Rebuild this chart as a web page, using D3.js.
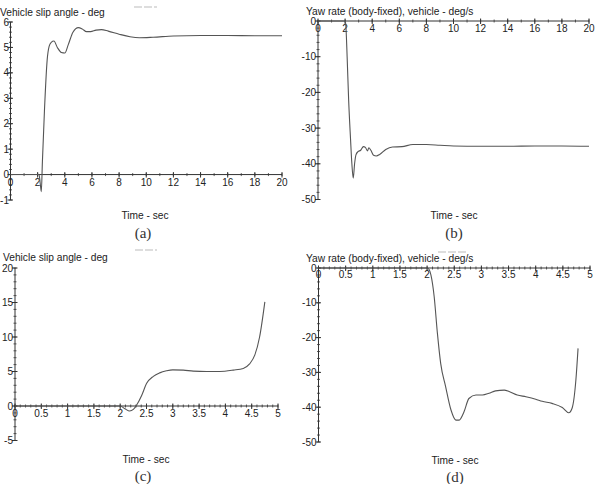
<!DOCTYPE html>
<html><head><meta charset="utf-8">
<script src="https://cdn.jsdelivr.net/npm/d3@7"></script>
<style>
html,body{margin:0;padding:0;background:#fff;}
svg{display:block;}
text{font-family:"Liberation Sans",Arial,sans-serif;fill:#222;}
.cap{font-family:"Liberation Serif","Times New Roman",serif;fill:#333;}
</style>
</head><body>
<svg id="chart" width="596" height="484"></svg>
<script>
// ---- data ----
const timeA = [0, 2.1, 2.2, 2.27, 2.35, 2.5, 2.7, 2.85, 3.0, 3.2, 3.45, 3.75, 4.0, 4.25, 4.6, 5.0, 5.3, 5.6, 5.9, 6.3, 6.7, 7.2, 8.0, 8.8, 9.5, 10.5, 12, 14, 16, 18, 20];
const slipA = [0, 0, -0.4, -0.67, 0.5, 2.5, 4.5, 5.05, 5.2, 5.25, 5.0, 4.8, 4.78, 5.1, 5.6, 5.78, 5.72, 5.62, 5.62, 5.68, 5.7, 5.64, 5.52, 5.42, 5.38, 5.4, 5.45, 5.47, 5.47, 5.46, 5.46];

const timeB = [0, 2.0, 2.05, 2.15, 2.26, 2.4, 2.5, 2.6, 2.7, 2.8, 2.95, 3.15, 3.35, 3.5, 3.65, 3.75, 3.9, 4.1, 4.3, 4.55, 5.0, 5.5, 6.2, 7.0, 8.0, 9.0, 10.0, 12, 14, 16, 18, 20];
const yawB  = [0, 0, -1, -10, -22, -33, -40, -44, -40, -37.5, -36.6, -36.2, -35.2, -35.4, -36.4, -35.5, -36.2, -37.6, -37.8, -37.4, -36, -35.3, -35.2, -34.6, -34.6, -34.8, -35.0, -35.1, -35.1, -35.0, -35.0, -35.1];

const timeC = [0, 2.0, 2.09, 2.18, 2.25, 2.31, 2.41, 2.5, 2.63, 2.75, 2.88, 3.0, 3.2, 3.39, 3.64, 3.89, 4.15, 4.34, 4.46, 4.56, 4.65, 4.75];
const slipC = [0, 0, -0.4, -0.73, -0.5, 0.1, 1.55, 3.25, 4.3, 4.8, 5.1, 5.24, 5.2, 5.05, 5.0, 5.0, 5.2, 5.45, 6.1, 7.4, 10, 15.1];

const timeD = [0, 2.0, 2.04, 2.07, 2.13, 2.19, 2.25, 2.34, 2.44, 2.53, 2.59, 2.68, 2.77, 2.9, 3.02, 3.14, 3.26, 3.42, 3.51, 3.66, 3.82, 4.0, 4.12, 4.3, 4.49, 4.61, 4.67, 4.74, 4.78];
const yawD  = [0, 0, -0.5, -2, -8.2, -18.8, -27.4, -34, -40.8, -43.7, -43.7, -41.3, -37.5, -36.5, -36.5, -36, -35.3, -35.1, -35.5, -36.5, -37, -37.7, -38.3, -38.9, -40.1, -41.6, -40.3, -32.2, -23.1];

const ticksX20 = [0, 2, 4, 6, 8, 10, 12, 14, 16, 18, 20];
const ticksX5  = [0, 0.5, 1, 1.5, 2, 2.5, 3, 3.5, 4, 4.5, 5];
const ticksYA  = [-1, 0, 1, 2, 3, 4, 5, 6];
const ticksYB  = [-50, -40, -30, -20, -10, 0];
const ticksYC  = [-5, 0, 5, 10, 15, 20];
const ticksYD  = [-50, -40, -30, -20, -10, 0];

const titles = ["Vehicle slip angle - deg", "Yaw rate (body-fixed), vehicle - deg/s", "Vehicle slip angle - deg", "Yaw rate (body-fixed), vehicle - deg/s"];
const captions = ["(a)", "(b)", "(c)", "(d)"];
const xLabel = "Time - sec";

// ---- layout ----
const panels = [
  {t: timeA, v: slipA, xd: [0, 20], xr: [10.5, 282], yd: [-1, 6],   yr: [200, 22],  xt: ticksX20, xm: 1,   yt: ticksYA, ym: 0.2,
   title: [0, 15.5], xlab: [145, 219], cap: [143, 238], xlY: 185.5, dash: [134, 157, 7], lblOff: 1.5},
  {t: timeB, v: yawB,  xd: [0, 20], xr: [318, 589], yd: [-50, 0],  yr: [199.5, 21], xt: ticksX20, xm: 1,   yt: ticksYB, ym: 2,
   title: [306, 15], xlab: [454, 219], cap: [454, 238], xlY: 31.5, dash: null, lblOff: 2},
  {t: timeC, v: slipC, xd: [0, 5],  xr: [15, 278],  yd: [-5, 20],  yr: [440.5, 268], xt: ticksX5, xm: 0.1, yt: ticksYC, ym: 1,
   title: [3, 260.5], xlab: [146, 463], cap: [143, 481], xlY: 416.5, dash: [135, 157, 250], lblOff: 2},
  {t: timeD, v: yawD,  xd: [0, 5],  xr: [318.5, 590], yd: [-50, 0], yr: [442, 268], xt: ticksX5, xm: 0.1, yt: ticksYD, ym: 2,
   title: [306, 261.5], xlab: [455, 464], cap: [455, 482], xlY: 277.5, dash: [438, 468, 252], lblOff: 2}
];

const svg = d3.select("#chart");
const axisColor = "#333";
const fmt = d => (Math.abs(d) < 1e-9 ? "0" : String(+d.toFixed(2)));

panels.forEach((p, i) => {
  const x = d3.scaleLinear().domain(p.xd).range(p.xr);
  const y = d3.scaleLinear().domain(p.yd).range(p.yr);
  const g = svg.append("g");

  // title
  g.append("text").attr("x", p.title[0]).attr("y", p.title[1])
    .attr("font-size", 10.2).text(titles[i]);
  if (p.dash) {
    g.append("line").attr("x1", p.dash[0]).attr("x2", p.dash[1])
      .attr("y1", p.dash[2]).attr("y2", p.dash[2])
      .attr("stroke", "#aaa").attr("stroke-width", 0.8).attr("stroke-dasharray", "8,2");
  }

  // axes lines
  const x0 = x(0), y0 = y(0);
  g.append("line").attr("x1", x(p.xd[0])).attr("x2", x(p.xd[1])).attr("y1", y0).attr("y2", y0)
    .attr("stroke", axisColor).attr("stroke-width", 1);
  g.append("line").attr("x1", x0).attr("x2", x0).attr("y1", y(p.yd[0])).attr("y2", y(p.yd[1]))
    .attr("stroke", axisColor).attr("stroke-width", 1);

  // x ticks
  const xMinor = d3.range(p.xd[0], p.xd[1] + p.xm / 2, p.xm);
  g.selectAll(null).data(xMinor).enter().append("line")
    .attr("x1", d => x(d)).attr("x2", d => x(d)).attr("y1", y0 - 1.5).attr("y2", y0 + 1.5)
    .attr("stroke", axisColor).attr("stroke-width", 0.8);
  g.selectAll(null).data(p.xt).enter().append("line")
    .attr("x1", d => x(d)).attr("x2", d => x(d)).attr("y1", y0 - 2.5).attr("y2", y0 + 3)
    .attr("stroke", axisColor).attr("stroke-width", 1);
  g.selectAll(null).data(p.xt).enter().append("text")
    .attr("x", d => x(d)).attr("y", p.xlY).attr("text-anchor", "middle")
    .attr("font-size", 10).text(fmt);

  // y ticks
  const yMinor = d3.range(p.yd[0], p.yd[1] + p.ym / 2, p.ym);
  g.selectAll(null).data(yMinor).enter().append("line")
    .attr("x1", x0 - 1.5).attr("x2", x0 + 1.5).attr("y1", d => y(d)).attr("y2", d => y(d))
    .attr("stroke", axisColor).attr("stroke-width", 0.8);
  g.selectAll(null).data(p.yt).enter().append("line")
    .attr("x1", x0 - 3).attr("x2", x0 + 2.5).attr("y1", d => y(d)).attr("y2", d => y(d))
    .attr("stroke", axisColor).attr("stroke-width", 1);
  g.selectAll(null).data(p.yt).enter().append("text")
    .attr("x", x0 - p.lblOff).attr("y", d => y(d) + 3.6).attr("text-anchor", "end")
    .attr("font-size", 10).text(fmt);

  // curve
  const pts = p.t.map((t, k) => [t, p.v[k]]);
  const line = d3.line().x(d => x(d[0])).y(d => y(d[1])).curve(d3.curveMonotoneX);
  g.append("path").attr("d", line(pts)).attr("fill", "none")
    .attr("stroke", "#555").attr("stroke-width", 1.1);

  // x label & caption
  g.append("text").attr("x", p.xlab[0]).attr("y", p.xlab[1]).attr("text-anchor", "middle")
    .attr("font-size", 10.2).text(xLabel);
  g.append("text").attr("class", "cap").attr("x", p.cap[0]).attr("y", p.cap[1]).attr("text-anchor", "middle")
    .attr("font-size", 15).text(captions[i]);
});
</script>
</body></html>
